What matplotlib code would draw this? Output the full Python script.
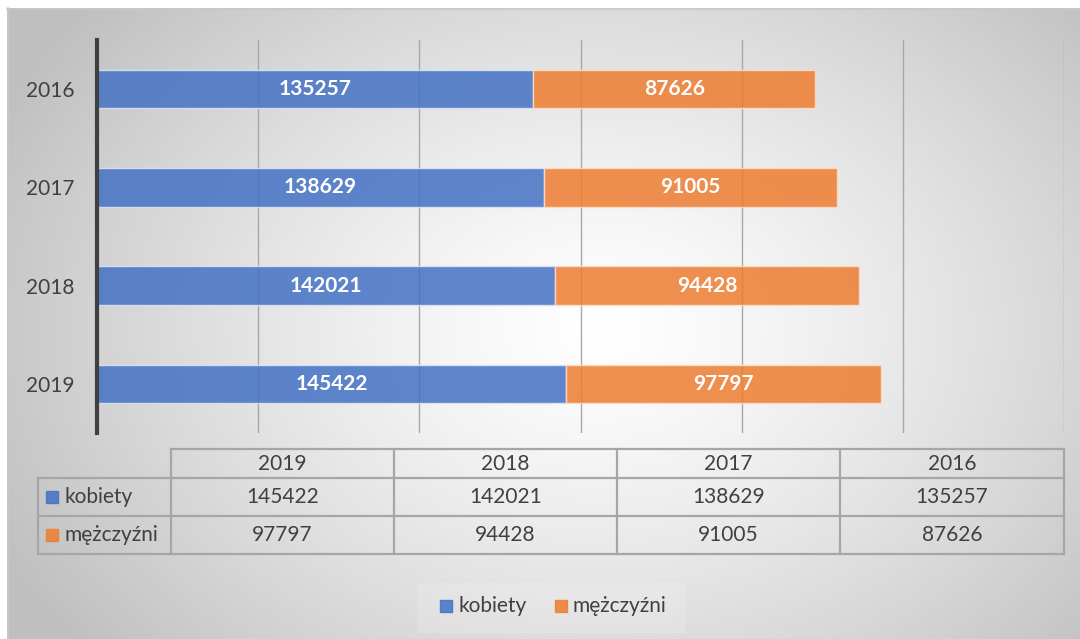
import numpy as np
import matplotlib
matplotlib.use("Agg")
import matplotlib.pyplot as plt
from matplotlib.patches import Rectangle

# ---- data ----
years = ["2016", "2017", "2018", "2019"]
kobiety = [135257, 138629, 142021, 145422]
mezczyzni = [87626, 91005, 94428, 97797]
series_names = ["kobiety", "mężczyźni"]
table_years = ["2019", "2018", "2017", "2016"]
x_max = 300000
x_step = 50000

BLUE = "#4472C4"
ORANGE = "#ED7D31"
TXT = "#404040"
FONT = "Lato"
FS = 15

plt.rcParams["font.family"] = [FONT, "DejaVu Sans"]

W, H = 1080, 639
fig = plt.figure(figsize=(W / 100, H / 100), dpi=100)
fig.patch.set_facecolor("white")

# ---- background overlay (pixel coords) ----
bg = fig.add_axes([0, 0, 1, 1], zorder=-10)
bg.set_xlim(0, W)
bg.set_ylim(H, 0)
bg.axis("off")
px0, py0, px1, py1 = 7, 8, 1080, 639
yy, xx = np.mgrid[py0:py1, px0:px1]
cx, cy = 600, 330
r = np.sqrt(((xx - cx) / 560.0) ** 2 + ((yy - cy) / 420.0) ** 2)
r = np.clip(r, 0, 1.2) / 1.2
val = 1.0 - 0.25 * r ** 1.3
img = np.dstack([val, val, val])
bg.imshow(img, extent=(px0, px1, py1, py0), aspect="auto", interpolation="bilinear")
bg.plot([px0, px1], [py0 + 0.5, py0 + 0.5], color="#c8c8c8", lw=1.2)
bg.plot([px0 + 0.5, px0 + 0.5], [py0, py1], color="#c8c8c8", lw=1.2)

# ---- main chart ----
ax = fig.add_axes([97 / W, 1 - 433 / H, (1064 - 97) / W, (433 - 40) / H])
ax.patch.set_alpha(0)
ypos = np.arange(len(years))
bh = 0.39
b1 = ax.barh(ypos, kobiety, height=bh, color=BLUE, alpha=0.85,
             edgecolor="#dde6f5", linewidth=1.0, zorder=2)
b2 = ax.barh(ypos, mezczyzni, left=kobiety, height=bh, color=ORANGE, alpha=0.85,
             edgecolor="#fbe0cc", linewidth=1.0, zorder=2)
for rect, v in zip(b1, kobiety):
    ax.text(rect.get_x() + rect.get_width() / 2, rect.get_y() + rect.get_height() / 2,
            str(v), ha="center", va="center", color="white", fontsize=FS,
            fontweight="bold", zorder=3)
for rect, v in zip(b2, mezczyzni):
    ax.text(rect.get_x() + rect.get_width() / 2, rect.get_y() + rect.get_height() / 2,
            str(v), ha="center", va="center", color="white", fontsize=FS,
            fontweight="bold", zorder=3)

ax.set_xlim(0, x_max)
ax.set_ylim(len(years) - 0.5, -0.5)
ax.set_xticks(np.arange(x_step, x_max + 1, x_step))
ax.set_xticklabels([])
ax.tick_params(axis="x", length=0)
ax.grid(axis="x", color="#a8a8a8", linewidth=1.0, zorder=1)
ax.set_axisbelow(True)
ax.set_yticks(ypos)
ax.set_yticklabels(years, fontsize=FS, color=TXT)
ax.tick_params(axis="y", length=0, pad=16)
for s in ["top", "right", "bottom"]:
    ax.spines[s].set_visible(False)
ax.spines["left"].set_color("#404040")
ax.spines["left"].set_linewidth(3)

# ---- data table (drawn in pixel overlay) ----
tb = fig.add_axes([0, 0, 1, 1], zorder=5)
tb.set_xlim(0, W)
tb.set_ylim(H, 0)
tb.axis("off")
col_x = [171, 394, 617, 840, 1064]
label_x0 = 38
row_y = [449, 478, 516, 554]
lc = "#a6a6a6"
lw = 1.6
tb.plot([col_x[0], col_x[-1]], [row_y[0], row_y[0]], color=lc, lw=lw)
for y in row_y[1:]:
    tb.plot([label_x0, col_x[-1]], [y, y], color=lc, lw=lw)
for x in col_x:
    tb.plot([x, x], [row_y[0], row_y[-1]], color=lc, lw=lw)
tb.plot([label_x0, label_x0], [row_y[1], row_y[-1]], color=lc, lw=lw)

for i, yr in enumerate(table_years):
    xc = (col_x[i] + col_x[i + 1]) / 2
    tb.text(xc, (row_y[0] + row_y[1]) / 2 + 1, yr, ha="center", va="center",
            fontsize=FS, color=TXT)
lookup_k = dict(zip(years, kobiety))
lookup_m = dict(zip(years, mezczyzni))
rows = [(series_names[0], BLUE, [lookup_k[y] for y in table_years]),
        (series_names[1], ORANGE, [lookup_m[y] for y in table_years])]
for r_i, (name, col, vals) in enumerate(rows):
    yc = (row_y[r_i + 1] + row_y[r_i + 2]) / 2
    tb.add_patch(Rectangle((46, yc - 6), 12, 12, color=col, alpha=0.85))
    tb.text(64, yc, name, ha="left", va="center", fontsize=FS, color=TXT)
    for i, v in enumerate(vals):
        xc = (col_x[i] + col_x[i + 1]) / 2
        tb.text(xc, yc, str(v), ha="center", va="center", fontsize=FS, color=TXT)

# ---- legend ----
tb.add_patch(Rectangle((417, 583), 268, 50, color="white", alpha=0.15, lw=0))
tb.add_patch(Rectangle((440, 600), 12, 12, color=BLUE, alpha=0.85))
tb.text(458, 606, series_names[0], ha="left", va="center", fontsize=FS, color=TXT)
tb.add_patch(Rectangle((555, 600), 12, 12, color=ORANGE, alpha=0.85))
tb.text(572, 606, series_names[1], ha="left", va="center", fontsize=FS, color=TXT)

fig.savefig("out.png", dpi=100)
